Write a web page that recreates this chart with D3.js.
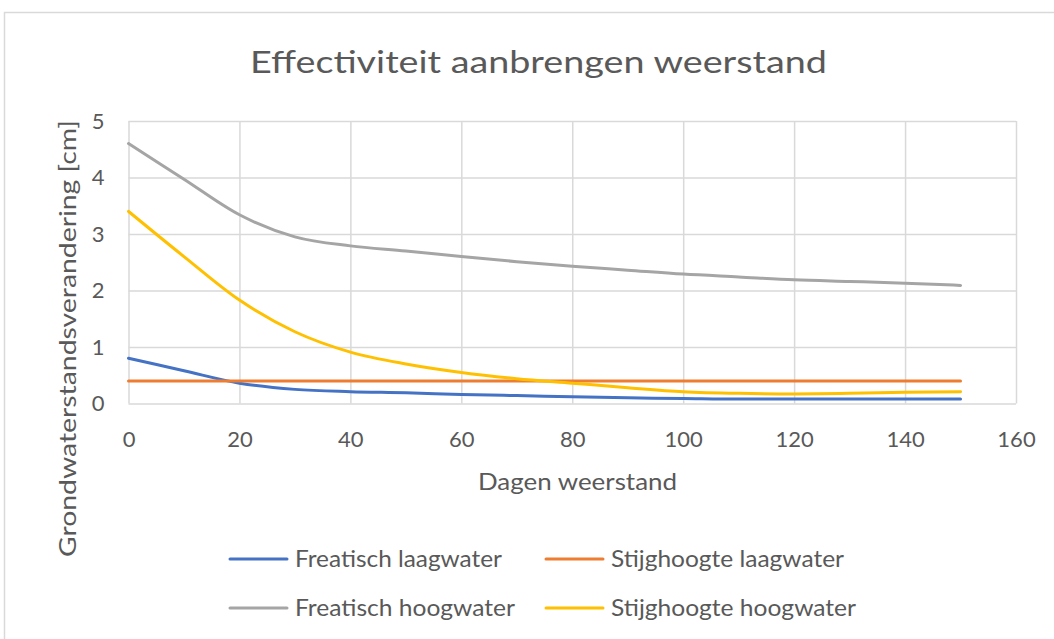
<!DOCTYPE html>
<html>
<head>
    <meta charset="utf-8">
    <title>Effectiviteit aanbrengen weerstand</title>
    <script src="https://d3js.org/d3.v7.min.js"></script>
    <style>
        body { margin: 0; background: #fff; }
        text { font-family: Lato, "Open Sans", sans-serif; fill: #595959; }
    </style>
</head>
<body>
    <div id="chart"></div>
    <script>
        // data
        const days = [0, 10, 20, 30, 40, 50, 60, 70, 80, 90, 100, 110, 120, 130, 140, 150];
        const freatischLaag = [0.8, 0.58, 0.36, 0.25, 0.21, 0.19, 0.16, 0.14, 0.12, 0.10, 0.09, 0.08, 0.08, 0.08, 0.08, 0.08];
        const stijghoogteLaag = [0.4, 0.4, 0.4, 0.4, 0.4, 0.4, 0.4, 0.4, 0.4, 0.4, 0.4, 0.4, 0.4, 0.4, 0.4, 0.4];
        const freatischHoog = [4.6, 3.97, 3.34, 2.95, 2.79, 2.7, 2.6, 2.51, 2.43, 2.36, 2.29, 2.24, 2.19, 2.16, 2.13, 2.09];
        const stijghoogteHoog = [3.4, 2.6, 1.83, 1.27, 0.91, 0.7, 0.55, 0.44, 0.36, 0.28, 0.21, 0.18, 0.17, 0.18, 0.2, 0.21];
        const seriesNames = ["Freatisch laagwater", "Stijghoogte laagwater", "Freatisch hoogwater", "Stijghoogte hoogwater"];
        const xTicks = [0, 20, 40, 60, 80, 100, 120, 140, 160];
        const yTicks = [0, 1, 2, 3, 4, 5];

        const colors = ["#4472C4", "#ED7D31", "#A5A5A5", "#FFC000"];
        const series = [freatischLaag, stijghoogteLaag, freatischHoog, stijghoogteHoog]
            .map((vals, i) => ({name: seriesNames[i], color: colors[i],
                values: vals.map((v, j) => ({t: days[j], v: v}))}));

        const width = 1054, height = 639;
        const svg = d3.select("#chart").append("svg")
            .attr("width", width)
            .attr("height", height);

        // chart frame
        svg.append("rect")
            .attr("x", 4.5).attr("y", 12.5)
            .attr("width", 1200).attr("height", 800)
            .attr("fill", "none").attr("stroke", "#d9d9d9").attr("stroke-width", 1.5);

        const x = d3.scaleLinear().domain([0, 160]).range([128.5, 1016]);
        const y = d3.scaleLinear().domain([0, 5]).range([403.5, 121]);

        // fit text width like the original (Calibri is narrower)
        function fit(sel, w) {
            sel.attr("textLength", w).attr("lengthAdjust", "spacingAndGlyphs");
        }

        // gridlines
        svg.append("g")
            .attr("transform", `translate(0,${y(0)})`)
            .call(d3.axisBottom(x).tickValues(xTicks).tickSize(y(5) - y(0)).tickFormat(""))
            .call(g => g.select(".domain").remove())
            .call(g => g.selectAll("line").attr("stroke", "#d9d9d9").attr("stroke-width", 1.5));
        svg.append("g")
            .attr("transform", `translate(${x(0)},0)`)
            .call(d3.axisRight(y).tickValues(yTicks).tickSize(x(160) - x(0)).tickFormat(""))
            .call(g => g.select(".domain").remove())
            .call(g => g.selectAll("line").attr("stroke", "#d9d9d9").attr("stroke-width", 1.5));

        // tick labels
        svg.append("g")
            .attr("transform", `translate(0,${y(0)})`)
            .call(d3.axisBottom(x).tickValues(xTicks).tickFormat(d3.format("d")).tickSize(0).tickPadding(28))
            .call(g => g.select(".domain").remove())
            .call(g => g.selectAll("text").attr("font-size", 22).attr("font-family", null));
        svg.append("g")
            .attr("transform", `translate(${x(0)},0)`)
            .call(d3.axisLeft(y).tickValues(yTicks).tickFormat(d3.format("d")).tickSize(0).tickPadding(24))
            .call(g => g.select(".domain").remove())
            .call(g => g.selectAll("text").attr("font-size", 22).attr("font-family", null));

        // lines
        const line = d3.line()
            .x(d => x(d.t))
            .y(d => y(d.v))
            .curve(d3.curveMonotoneX);
        svg.append("g").selectAll("path")
            .data(series)
            .join("path")
            .attr("fill", "none")
            .attr("stroke", d => d.color)
            .attr("stroke-width", 3)
            .attr("stroke-linecap", "round")
            .attr("d", d => line(d.values));

        // titles
        svg.append("text")
            .attr("x", 538.5).attr("y", 73)
            .attr("text-anchor", "middle")
            .attr("font-size", 31)
            .text("Effectiviteit aanbrengen weerstand")
            .call(fit, 577);
        svg.append("text")
            .attr("x", 577.5).attr("y", 490)
            .attr("text-anchor", "middle")
            .attr("font-size", 23)
            .text("Dagen weerstand")
            .call(fit, 199);
        svg.append("text")
            .attr("transform", "translate(76,338.5) rotate(-90)")
            .attr("text-anchor", "middle")
            .attr("font-size", 23)
            .text("Grondwaterstandsverandering [cm]")
            .call(fit, 437);

        // legend
        const legendPos = [[230, 559], [546, 559], [230, 608], [546, 608]];
        const legendTextW = [207, 233, 220, 245];
        const legend = svg.append("g").selectAll("g")
            .data(series)
            .join("g")
            .attr("transform", (d, i) => `translate(${legendPos[i][0]},${legendPos[i][1]})`);
        legend.append("line")
            .attr("x1", 0).attr("x2", 57)
            .attr("stroke", d => d.color)
            .attr("stroke-width", 3)
            .attr("stroke-linecap", "round");
        legend.append("text")
            .attr("x", 65).attr("dy", "0.36em")
            .attr("font-size", 23)
            .text(d => d.name)
            .each(function(d, i) { d3.select(this).call(fit, legendTextW[i]); });
    </script>
</body>
</html>
